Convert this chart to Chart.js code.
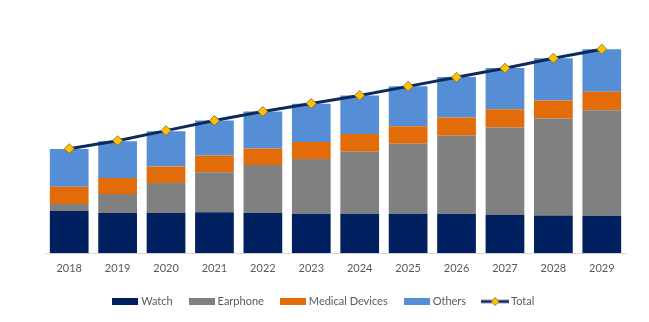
<!DOCTYPE html>
<html>
<head>
<meta charset="utf-8">
<script src="https://cdn.jsdelivr.net/npm/chart.js@4"></script>
<style>
  html, body { margin: 0; padding: 0; background: #fff; }
  #wrap { width: 649px; height: 322px; }
</style>
</head>
<body>
<div id="wrap"><canvas id="chart" width="649" height="322"></canvas></div>
<script>
// data (relative units)
const years = ['2018', '2019', '2020', '2021', '2022', '2023', '2024', '2025', '2026', '2027', '2028', '2029'];
const watch = [42, 40, 40, 40.7, 40, 39.3, 39.3, 39.3, 39, 38.3, 37.7, 37.3];
const earphone = [7, 19, 30, 40, 47.7, 54.4, 61.7, 69.7, 78, 86.7, 96.3, 105];
const medical = [17.3, 16, 16.3, 16.6, 16.6, 17, 17.7, 17.3, 18, 18.3, 18, 18.4];
const others = [37.4, 36.3, 35, 34.7, 36.7, 38, 38.3, 39.7, 40.3, 41, 42, 42.3];
const total = [104, 112, 122, 132, 141, 149, 157, 166, 175, 184, 194, 203];

const colors = {
  watch: '#002060',
  earphone: '#808080',
  medical: '#E36C0A',
  others: '#558ED5',
  line: '#0E2A5C',
  marker: '#FFC000'
};

// small canvases used as legend symbols
function boxIcon(color) {
  const c = document.createElement('canvas');
  c.width = 26; c.height = 7;
  const g = c.getContext('2d');
  g.fillStyle = color;
  g.fillRect(0, 0, 26, 7);
  return c;
}
function lineIcon() {
  const c = document.createElement('canvas');
  c.width = 28; c.height = 10;
  const g = c.getContext('2d');
  g.strokeStyle = colors.line;
  g.lineWidth = 3;
  g.beginPath(); g.moveTo(0, 5); g.lineTo(28, 5); g.stroke();
  g.fillStyle = colors.marker;
  g.strokeStyle = '#7F6A2A';
  g.lineWidth = 0.8;
  g.beginPath();
  g.moveTo(14, 1); g.lineTo(18, 5); g.lineTo(14, 9); g.lineTo(10, 5); g.closePath();
  g.fill(); g.stroke();
  return c;
}
const legendIcons = [lineIcon(), boxIcon(colors.watch), boxIcon(colors.earphone), boxIcon(colors.medical), boxIcon(colors.others)];

const ctx = document.getElementById('chart').getContext('2d');
new Chart(ctx, {
  data: {
    labels: years,
    datasets: [
      {
        type: 'line', label: 'Total', data: total, stack: 'total', order: 0,
        borderColor: colors.line, borderWidth: 3, backgroundColor: colors.marker,
        pointStyle: 'rectRot', pointRadius: 5, pointBackgroundColor: colors.marker,
        pointBorderColor: '#7F6A2A', pointBorderWidth: 0.8, tension: 0, fill: false
      },
      { type: 'bar', label: 'Watch', data: watch, backgroundColor: colors.watch, stack: 'a', order: 1 },
      { type: 'bar', label: 'Earphone', data: earphone, backgroundColor: colors.earphone, stack: 'a', order: 1 },
      { type: 'bar', label: 'Medical Devices', data: medical, backgroundColor: colors.medical, stack: 'a', order: 1 },
      { type: 'bar', label: 'Others', data: others, backgroundColor: colors.others, stack: 'a', order: 1 }
    ]
  },
  options: {
    responsive: false,
    animation: false,
    datasets: { bar: { categoryPercentage: 0.8, barPercentage: 1 } },
    layout: { padding: { left: 23, right: 23, top: 22, bottom: 5 } },
    scales: {
      x: {
        stacked: true,
        grid: { display: false, drawTicks: false },
        border: { display: true, color: '#D9D9D9', width: 1 },
        ticks: { color: '#595959', font: { family: 'Lato', size: 11 }, padding: 9 },
        afterFit: scale => { scale.height -= 7; }
      },
      y: {
        stacked: true, min: 0, max: 230,
        ticks: { display: false },
        grid: { display: false },
        border: { display: false },
        afterFit: scale => { scale.width = 22; }
      }
    },
    plugins: {
      tooltip: { enabled: false },
      legend: {
        position: 'bottom',
        labels: {
          usePointStyle: true,
          pointStyleWidth: 21,
          boxHeight: 7,
          padding: 18.5,
          color: '#595959',
          font: { family: 'Lato', size: 11 },
          sort: (a, b) => {
            const rank = i => (i === 0 ? 99 : i);
            return rank(a.datasetIndex) - rank(b.datasetIndex);
          },
          generateLabels: chart => {
            const items = Chart.defaults.plugins.legend.labels.generateLabels(chart);
            items.forEach(it => { it.pointStyle = legendIcons[it.datasetIndex]; });
            return items;
          }
        }
      }
    }
  }
});
</script>
</body>
</html>
